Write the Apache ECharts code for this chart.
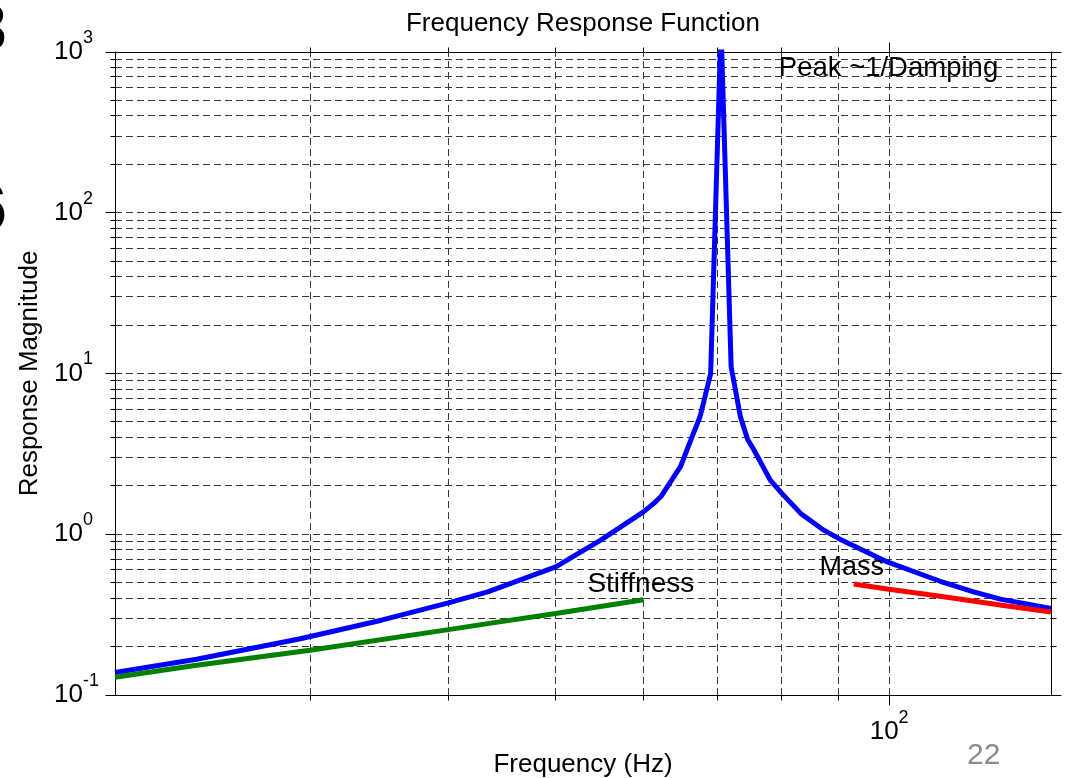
<!DOCTYPE html>
<html>
<head>
<meta charset="utf-8">
<script src="https://cdn.jsdelivr.net/npm/echarts@6/dist/echarts.min.js"></script>
<style>
html,body{margin:0;padding:0;background:#fff;}
#c{width:1065px;height:778px;}
</style>
</head>
<body>
<div id="c"></div>
<script>
// ---- data ----
const freqBlue = [20, 23.7, 29.4, 34.8, 40, 43.4, 50, 54.9, 60, 61.3, 62.2, 64.8, 66.2, 67.5, 69, 70.5, 72, 73.4, 74.5, 75.5, 78.1, 80, 83.2, 87.3, 90, 99.6, 111.2, 119.2, 126, 132.3, 140];
const magBlue  = [0.138, 0.167, 0.224, 0.292, 0.374, 0.438, 0.627, 0.919, 1.379, 1.555, 1.71, 2.63, 3.85, 5.4, 10.0, 1450, 11.0, 5.38, 3.9, 3.34, 2.17, 1.795, 1.348, 1.06, 0.942, 0.673, 0.51, 0.438, 0.395, 0.371, 0.345];
const freqStiffness = [20, 23.7, 30, 40, 43.4, 50, 60];
const magStiffness  = [0.129, 0.153, 0.19, 0.255, 0.278, 0.321, 0.391];
const freqMass = [92.9, 99.6, 111.2, 127.8, 140];
const magMass  = [0.491, 0.457, 0.412, 0.358, 0.3286];

const xRange = [20, 140];
const yRange = [0.1, 1000];
const xGridValues = [30, 40, 50, 60, 70, 80, 90, 100];
const xMajorTicks = [100];
const yGridValues = [0.2,0.3,0.4,0.5,0.6,0.7,0.8,0.9,1,2,3,4,5,6,7,8,9,10,20,30,40,50,60,70,80,90,100,200,300,400,500,600,700,800,900];
const yTickValues = [0.1].concat(yGridValues, [1000]);
const yMajorTicks = [0.1, 1, 10, 100, 1000];

const titleText = 'Frequency Response Function';
const xName = 'Frequency (Hz)';
const yName = 'Response Magnitude';
const annotations = [
  {text: 'Peak ~1/Damping', at: [79.5, 795]},
  {text: 'Stiffness', at: [53.4, 0.489]},
  {text: 'Mass', at: [86.5, 0.619]}
];

// ---- chart ----
const FONT = '"Liberation Sans", Arial, Helvetica, sans-serif';
const chart = echarts.init(document.getElementById('c'), null, {renderer: 'canvas', width: 1065, height: 778});

function zip(a, b) { return a.map((v, i) => [v, b[i]]); }
function powLabel(v) {
  const l = Math.log10(v);
  const e = Math.round(l);
  if (Math.abs(l - e) > 1e-6) return '';
  return '{b|10}{s|' + e + '}';
}
const rich = {
  b: {fontSize: 26, lineHeight: 46, fontFamily: FONT, color: '#000'},
  s: {fontSize: 18, lineHeight: 18, verticalAlign: 'top', fontFamily: FONT, color: '#000'}
};
function crisp(v) { return Math.round(v - 0.5) + 0.5; }
const gridStyle = {stroke: '#383838', lineWidth: 1, lineDash: [7, 4]};
const tickStyle = {stroke: '#000', lineWidth: 1};

function annotationPoints(list) {
  return list.map(a => ({coord: a.at, value: a.text}));
}
function annLabel(size) {
  return {
    show: true, position: 'inside', align: 'left', verticalAlign: 'middle',
    formatter: p => p.value, color: '#000', fontSize: size, fontFamily: FONT
  };
}

const baseX = {type: 'log', logBase: 10, min: xRange[0], max: xRange[1], gridIndex: 0,
  splitLine: {show: false}, axisTick: {show: false}, minorTick: {show: false},
  axisLine: {show: true, lineStyle: {color: '#000', width: 1}}};
const baseY = {type: 'log', logBase: 10, min: yRange[0], max: yRange[1], gridIndex: 0,
  splitLine: {show: false}, axisTick: {show: false}, minorTick: {show: false},
  axisLine: {show: true, lineStyle: {color: '#000', width: 1}}};

const option = {
  backgroundColor: '#fff',
  animation: false,
  title: {
    text: titleText, left: 583, top: 11, padding: 0, textAlign: 'center',
    textStyle: {fontSize: 26, fontWeight: 'normal', color: '#000', fontFamily: FONT}
  },
  grid: {left: 115, top: 52, right: 14, bottom: 83, containLabel: false, outerBoundsMode: 'none'},
  xAxis: [
    Object.assign({}, baseX, {
      position: 'bottom',
      name: xName, nameLocation: 'middle', nameGap: 57,
      nameTextStyle: {fontSize: 26, color: '#000', fontFamily: FONT},
      axisLabel: {show: true, formatter: powLabel, margin: 14, rich: rich, color: '#000', fontFamily: FONT,
        showMinLabel: false, showMaxLabel: false}
    }),
    Object.assign({}, baseX, {position: 'top', axisLabel: {show: false}})
  ],
  yAxis: [
    Object.assign({}, baseY, {
      position: 'left',
      name: yName, nameLocation: 'middle', nameGap: 72,
      nameTextStyle: {fontSize: 26, color: '#000', fontFamily: FONT},
      axisLabel: {show: true, formatter: powLabel, margin: 61, align: 'left', rich: rich, color: '#000', fontFamily: FONT}
    }),
    Object.assign({}, baseY, {position: 'right', axisLabel: {show: false}})
  ],
  series: [
    {
      type: 'custom', name: 'vgrid', silent: true, z: 1,
      xAxisIndex: 0, yAxisIndex: 0,
      data: xGridValues.map(v => [v, yRange[0]]),
      renderItem: (params, api) => {
        const v = api.value(0);
        const p0 = api.coord([v, yRange[0]]);
        const p1 = api.coord([v, yRange[1]]);
        const x = crisp(p0[0]);
        return {type: 'line', shape: {x1: x, y1: p0[1], x2: x, y2: p1[1]}, style: gridStyle};
      }
    },
    {
      type: 'custom', name: 'hgrid', silent: true, z: 1,
      xAxisIndex: 0, yAxisIndex: 0,
      data: yGridValues.map(v => [xRange[0], v]),
      renderItem: (params, api) => {
        const v = api.value(1);
        const p0 = api.coord([xRange[0], v]);
        const p1 = api.coord([xRange[1], v]);
        const y = crisp(p0[1]);
        return {type: 'line', shape: {x1: p0[0], y1: y, x2: p1[0], y2: y}, style: gridStyle};
      }
    },
    {
      type: 'custom', name: 'xticks', silent: true, z: 2, clip: false,
      xAxisIndex: 0, yAxisIndex: 0,
      data: xGridValues.map(v => [v, yRange[0]]),
      renderItem: (params, api) => {
        const v = api.value(0);
        const len = xMajorTicks.indexOf(v) >= 0 ? 10 : 5;
        const pb = api.coord([v, yRange[0]]);
        const pt = api.coord([v, yRange[1]]);
        const x = crisp(pb[0]);
        return {type: 'group', children: [
          {type: 'line', shape: {x1: x, y1: crisp(pb[1]), x2: x, y2: crisp(pb[1]) + len}, style: tickStyle},
          {type: 'line', shape: {x1: x, y1: crisp(pt[1]), x2: x, y2: crisp(pt[1]) - len}, style: tickStyle}
        ]};
      }
    },
    {
      type: 'custom', name: 'yticks', silent: true, z: 2, clip: false,
      xAxisIndex: 0, yAxisIndex: 0,
      data: yTickValues.map(v => [xRange[0], v]),
      renderItem: (params, api) => {
        const v = api.value(1);
        const major = yMajorTicks.some(m => Math.abs(m - v) / m < 1e-9);
        const len = major ? 10 : 5;
        const pl = api.coord([xRange[0], v]);
        const pr = api.coord([xRange[1], v]);
        const y = crisp(pl[1]);
        return {type: 'group', children: [
          {type: 'line', shape: {x1: crisp(pl[0]), y1: y, x2: crisp(pl[0]) - len, y2: y}, style: tickStyle},
          {type: 'line', shape: {x1: crisp(pr[0]), y1: y, x2: crisp(pr[0]) + len, y2: y}, style: tickStyle}
        ]};
      }
    },
    {
      type: 'line', name: 'FRF', z: 3, xAxisIndex: 0, yAxisIndex: 0,
      data: zip(freqBlue, magBlue), showSymbol: false, symbol: 'none', smooth: false, clip: true,
      lineStyle: {color: '#0000ff', width: 5},
      markPoint: {
        symbol: 'circle', symbolSize: 1, silent: true,
        itemStyle: {color: 'rgba(0,0,0,0)'},
        label: annLabel(27.5),
        data: annotationPoints(annotations.slice(0, 1))
      }
    },
    {
      type: 'line', name: 'Stiffness', z: 4, xAxisIndex: 0, yAxisIndex: 0,
      data: zip(freqStiffness, magStiffness), showSymbol: false, symbol: 'none', clip: true,
      lineStyle: {color: '#008000', width: 5},
      markPoint: {
        symbol: 'circle', symbolSize: 1, silent: true,
        itemStyle: {color: 'rgba(0,0,0,0)'},
        label: annLabel(28),
        data: annotationPoints(annotations.slice(1, 2))
      }
    },
    {
      type: 'line', name: 'Mass', z: 4, xAxisIndex: 0, yAxisIndex: 0,
      data: zip(freqMass, magMass), showSymbol: false, symbol: 'none', clip: true,
      lineStyle: {color: '#ff0000', width: 5},
      markPoint: {
        symbol: 'circle', symbolSize: 1, silent: true,
        itemStyle: {color: 'rgba(0,0,0,0)'},
        label: annLabel(27),
        data: annotationPoints(annotations.slice(2, 3))
      }
    }
  ],
  graphic: [
    {type: 'text', x: -30, y: -1, silent: true,
      style: {text: '3', font: 'bold 66px ' + FONT, fill: '#000', textVerticalAlign: 'top'}},
    {type: 'text', x: -30, y: 179, silent: true,
      style: {text: '6', font: 'bold 66px ' + FONT, fill: '#000', textVerticalAlign: 'top'}},
    {type: 'text', x: 967, y: 756, silent: true,
      style: {text: '22', font: '30px ' + FONT, fill: '#8c8c8c', verticalAlign: 'middle'}}
  ]
};
chart.setOption(option);
</script>
</body>
</html>
